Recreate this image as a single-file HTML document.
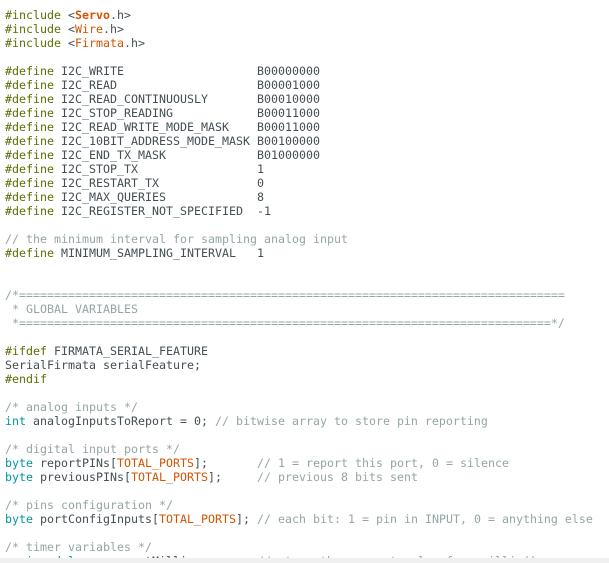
<!DOCTYPE html>
<html><head><meta charset="utf-8"><style>
html,body{margin:0;padding:0;background:#fff;width:609px;height:563px;overflow:hidden;position:relative}
pre{position:absolute;left:5px;top:8px;margin:0;font-family:"DejaVu Sans Mono","Liberation Mono",monospace;font-size:11.63px;line-height:14px;color:#434f54;white-space:pre}
.p{color:#5e6d03}.k{color:#00979c}.o{color:#d35400}.b{color:#d35400;font-weight:bold}.c{color:#95a5a6}
.bar{position:absolute;left:0;top:558px;width:609px;height:5px;background:#f0f0f0}
</style></head><body>
<pre><span class="p">#include</span> &lt;<span class="b">Servo</span>.h&gt;
<span class="p">#include</span> &lt;<span class="o">Wire</span>.h&gt;
<span class="p">#include</span> &lt;<span class="o">Firmata</span>.h&gt;

<span class="p">#define</span> I2C_WRITE                   B00000000
<span class="p">#define</span> I2C_READ                    B00001000
<span class="p">#define</span> I2C_READ_CONTINUOUSLY       B00010000
<span class="p">#define</span> I2C_STOP_READING            B00011000
<span class="p">#define</span> I2C_READ_WRITE_MODE_MASK    B00011000
<span class="p">#define</span> I2C_10BIT_ADDRESS_MODE_MASK B00100000
<span class="p">#define</span> I2C_END_TX_MASK             B01000000
<span class="p">#define</span> I2C_STOP_TX                 1
<span class="p">#define</span> I2C_RESTART_TX              0
<span class="p">#define</span> I2C_MAX_QUERIES             8
<span class="p">#define</span> I2C_REGISTER_NOT_SPECIFIED  -1

<span class="c">// the minimum interval for sampling analog input</span>
<span class="p">#define</span> MINIMUM_SAMPLING_INTERVAL   1


<span class="c">/*==============================================================================
 * GLOBAL VARIABLES
 *============================================================================*/</span>

<span class="p">#ifdef</span> FIRMATA_SERIAL_FEATURE
SerialFirmata serialFeature;
<span class="p">#endif</span>

<span class="c">/* analog inputs */</span>
<span class="k">int</span> analogInputsToReport = 0; <span class="c">// bitwise array to store pin reporting</span>

<span class="c">/* digital input ports */</span>
<span class="k">byte</span> reportPINs[<span class="o">TOTAL_PORTS</span>];       <span class="c">// 1 = report this port, 0 = silence</span>
<span class="k">byte</span> previousPINs[<span class="o">TOTAL_PORTS</span>];     <span class="c">// previous 8 bits sent</span>

<span class="c">/* pins configuration */</span>
<span class="k">byte</span> portConfigInputs[<span class="o">TOTAL_PORTS</span>]; <span class="c">// each bit: 1 = pin in INPUT, 0 = anything else</span>

<span class="c">/* timer variables */</span>
<span class="k">unsigned long</span> currentMillis;        <span class="c">// store the current value from millis()</span>
</pre>
<div class="bar"></div>
</body></html>
